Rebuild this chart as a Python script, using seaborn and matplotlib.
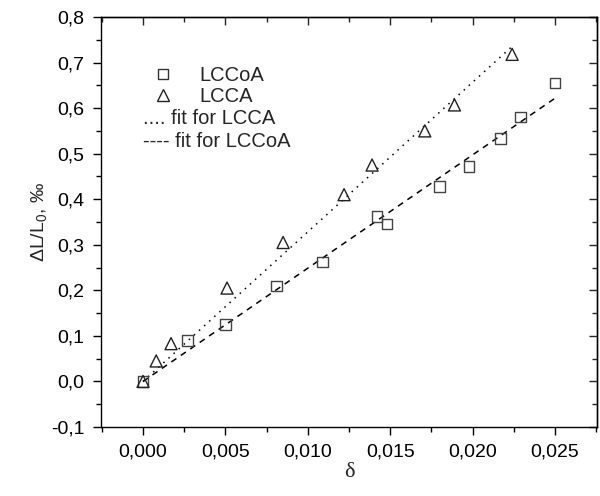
import numpy as np
import pandas as pd
import matplotlib
matplotlib.use("Agg")
import matplotlib.pyplot as plt
from matplotlib.ticker import MultipleLocator, FuncFormatter
from matplotlib.lines import Line2D
import seaborn as sns

# Relative elongation vs. strain for two samples
delta_lccoa = [0.0, 0.0027, 0.0050, 0.0081, 0.0109, 0.0142, 0.0148, 0.0180, 0.0198, 0.0217, 0.0229, 0.0250]
dl_lccoa = [0.000, 0.090, 0.125, 0.210, 0.262, 0.362, 0.345, 0.428, 0.472, 0.533, 0.580, 0.655]

delta_lcca = [0.0, 0.0008, 0.0017, 0.0051, 0.0085, 0.0122, 0.0139, 0.0171, 0.0189, 0.0224]
dl_lcca = [0.000, 0.045, 0.083, 0.205, 0.305, 0.410, 0.475, 0.550, 0.607, 0.718]

x_ticks = [0.000, 0.005, 0.010, 0.015, 0.020, 0.025]
y_ticks = [-0.1, 0.0, 0.1, 0.2, 0.3, 0.4, 0.5, 0.6, 0.7, 0.8]

df_a = pd.DataFrame({"delta": delta_lccoa, "dl": dl_lccoa})
df_b = pd.DataFrame({"delta": delta_lcca, "dl": dl_lcca})


def origin_fit(x, y):
    """Least-squares line through the origin, evaluated over the data range."""
    x = np.asarray(x)
    y = np.asarray(y)
    k = np.sum(x * y) / np.sum(x * x)
    xs = np.array([x.min(), x.max()])
    return xs, k * xs


sns.set_theme(style="ticks")
plt.rcParams["font.family"] = ["Liberation Sans", "DejaVu Sans"]
plt.rcParams["mathtext.fontset"] = "custom"
plt.rcParams["mathtext.rm"] = "Liberation Sans"
plt.rcParams["mathtext.it"] = "Liberation Sans:italic"

FS = 14
fig = plt.figure(figsize=(6.0, 4.96), dpi=100)
ax = fig.add_axes([101 / 600, 1 - 427 / 496, 496 / 600, 410 / 496])

# linear fits
fx, fy = origin_fit(delta_lcca, dl_lcca)
sns.lineplot(x=fx, y=fy, ax=ax, color="black", lw=1.1, ls=(0, (1, 3.5)))
fx, fy = origin_fit(delta_lccoa, dl_lccoa)
sns.lineplot(x=fx, y=fy, ax=ax, color="black", lw=1.1, ls=(0, (4, 3.5)))

# measured points
sns.scatterplot(data=df_a, x="delta", y="dl", ax=ax, marker="s", s=55,
                facecolor="none", edgecolor="#444444", linewidth=1.0, zorder=3)
sns.scatterplot(data=df_b, x="delta", y="dl", ax=ax, marker="^", s=75,
                facecolor="none", edgecolor="#222222", linewidth=1.0, zorder=3)

ax.set_xlim(-0.00255, 0.02755)
ax.set_ylim(-0.1, 0.8)
ax.set_xticks(x_ticks)
ax.set_yticks(y_ticks)
ax.xaxis.set_minor_locator(MultipleLocator(0.0025))
ax.yaxis.set_minor_locator(MultipleLocator(0.05))
comma = lambda fmt: FuncFormatter(lambda v, p: (fmt % v).replace(".", ","))
ax.xaxis.set_major_formatter(comma("%.3f"))
ax.yaxis.set_major_formatter(comma("%.1f"))

for sp in ax.spines.values():
    sp.set_linewidth(1.0)
    sp.set_color("black")

ax.tick_params(which="both", direction="out", colors="black", labelsize=FS, width=1.0)
ax.tick_params(which="major", length=6, pad=6)
ax.tick_params(which="minor", length=3.5)

# inward ticks on the top and right edges
top = ax.secondary_xaxis("top")
top.set_xticks(x_ticks)
top.xaxis.set_minor_locator(MultipleLocator(0.0025))
top.tick_params(which="both", direction="in", labeltop=False, width=1.0)
top.tick_params(which="major", length=6)
top.tick_params(which="minor", length=3.5)
right = ax.secondary_yaxis("right")
right.set_yticks(y_ticks)
right.yaxis.set_minor_locator(MultipleLocator(0.05))
right.tick_params(which="both", direction="in", labelright=False, width=1.0)
right.tick_params(which="major", length=6)
right.tick_params(which="minor", length=3.5)
top.spines["top"].set_linewidth(1.0)
right.spines["right"].set_linewidth(1.0)

ax.set_xlabel("δ", fontsize=FS + 2, family=["Liberation Serif", "DejaVu Serif"], labelpad=2)
ax.set_ylabel("ΔL/L$_0$, ‰", fontsize=FS)
ax.yaxis.set_label_coords(-0.105, 0.5)

handles = [
    Line2D([], [], ls="none", marker="s", ms=7, mfc="none", mec="#333333", mew=1.0),
    Line2D([], [], ls="none", marker="^", ms=8.5, mfc="none", mec="#222222", mew=1.0),
]
ax.legend(handles, ["LCCoA", "LCCA"], loc="upper left", bbox_to_anchor=(0.085, 0.90),
          frameon=False, fontsize=FS + 0.5, handlelength=1.2, handletextpad=1.2,
          labelspacing=0.12, borderaxespad=0)
ax.text(0.085, 0.775, ".... fit for LCCA", transform=ax.transAxes, fontsize=FS + 0.5, va="top")
ax.text(0.085, 0.72, "---- fit for LCCoA", transform=ax.transAxes, fontsize=FS + 0.5, va="top")

fig.savefig("out.png", dpi=100, facecolor="white")
